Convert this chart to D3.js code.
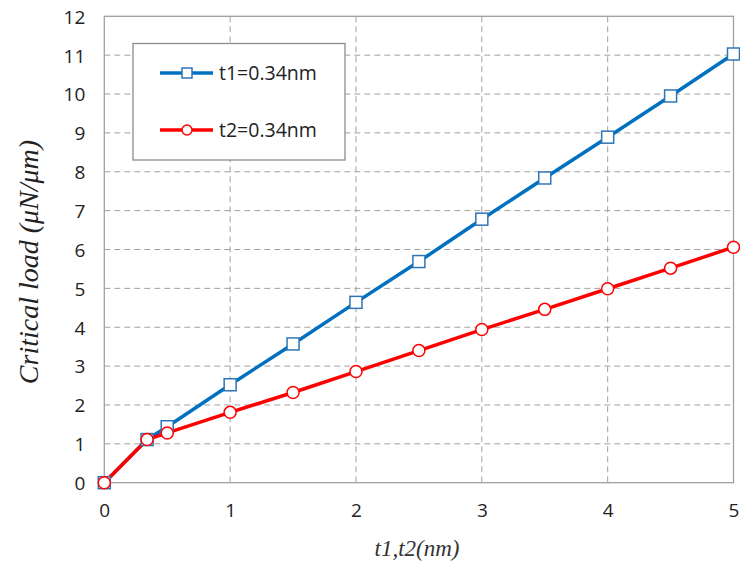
<!DOCTYPE html>
<html><head><meta charset="utf-8">
<script src="https://cdn.jsdelivr.net/npm/d3@7"></script>
<style>body{margin:0;background:#fff}svg{display:block}</style>
</head><body>
<svg id="c" width="740" height="562"></svg>
<script>
const xVals = [0, 0.34, 0.5, 1, 1.5, 2, 2.5, 3, 3.5, 4, 4.5, 5];
const t1Vals = [0, 1.11, 1.44, 2.52, 3.57, 4.64, 5.69, 6.78, 7.84, 8.89, 9.95, 11.03];
const t2Vals = [0, 1.11, 1.28, 1.81, 2.32, 2.86, 3.40, 3.94, 4.46, 4.99, 5.52, 6.06];
const seriesNames = ["t1=0.34nm", "t2=0.34nm"];
const xTicks = [0, 1, 2, 3, 4, 5];
const yTicks = [0,1,2,3,4,5,6,7,8,9,10,11,12];

const svg = d3.select("#c");
const L = 104.3, R = 733.5, T = 16.3, B = 482.7;
const x = d3.scaleLinear().domain([0,5]).range([L,R]);
const y = d3.scaleLinear().domain([0,12]).range([B,T]);
const tickFont = "'Open Sans', 'Noto Sans', sans-serif";

// gridlines
svg.append("g").selectAll("line").data(yTicks.filter(d=>d>0&&d<12)).join("line")
  .attr("x1",L).attr("x2",R).attr("y1",d=>y(d)).attr("y2",d=>y(d))
  .attr("stroke","#a0a0a0").attr("stroke-width",1).attr("stroke-dasharray","6,4");
svg.append("g").selectAll("line").data(xTicks.filter(d=>d>0&&d<5)).join("line")
  .attr("y1",T).attr("y2",B).attr("x1",d=>x(d)).attr("x2",d=>x(d))
  .attr("stroke","#a0a0a0").attr("stroke-width",1).attr("stroke-dasharray","6,4");
// frame
svg.append("rect").attr("x",L).attr("y",T).attr("width",R-L).attr("height",B-T)
  .attr("fill","none").attr("stroke","#a0a0a0").attr("stroke-width",1.3);

// axes via d3
const xAxis = svg.append("g").attr("transform",`translate(0,${B})`)
  .call(d3.axisBottom(x).tickValues(xTicks).tickSize(0).tickPadding(20).tickFormat(d3.format("d")));
const yAxis = svg.append("g").attr("transform",`translate(${L},0)`)
  .call(d3.axisLeft(y).tickValues(yTicks).tickSize(0).tickPadding(19).tickFormat(d3.format("d")));
[xAxis,yAxis].forEach(a=>{
  a.select(".domain").remove();
  a.selectAll("text").attr("font-family",tickFont).attr("font-size",19).attr("fill","#222");
});
yAxis.selectAll("text").attr("dy","0.36em");
xAxis.selectAll("text").attr("dy","0.71em").attr("transform","translate(0,1)");

// lines
const line = d3.line().x((d,i)=>x(xVals[i])).y(d=>y(d));
const series = [
  {vals:t1Vals, color:"#0070C0", mark:"#2E75B6", shape:"square"},
  {vals:t2Vals, color:"#FF0000", mark:"#FF0000", shape:"circle"}
];
series.forEach(s=>{
  svg.append("path").datum(s.vals).attr("d",line).attr("fill","none")
    .attr("stroke",s.color).attr("stroke-width",3.5).attr("stroke-linejoin","round");
});
series.forEach(s=>{
  const g = svg.append("g");
  if (s.shape==="square") {
    g.selectAll("rect").data(s.vals).join("rect")
      .attr("x",(d,i)=>x(xVals[i])-6).attr("y",d=>y(d)-6).attr("width",12).attr("height",12)
      .attr("fill","#fff").attr("stroke",s.mark).attr("stroke-width",1.5);
  } else {
    g.selectAll("circle").data(s.vals).join("circle")
      .attr("cx",(d,i)=>x(xVals[i])).attr("cy",d=>y(d)).attr("r",6)
      .attr("fill","#fff").attr("stroke",s.mark).attr("stroke-width",1.5);
  }
});

// legend
svg.append("rect").attr("x",133).attr("y",43.5).attr("width",212).attr("height",116.5)
  .attr("fill","#fff").attr("stroke","#8c8c8c").attr("stroke-width",1.3);
const legY = [73, 130];
series.forEach((s,i)=>{
  const yy = legY[i];
  svg.append("line").attr("x1",160).attr("x2",213).attr("y1",yy).attr("y2",yy)
    .attr("stroke",s.color).attr("stroke-width",3.5);
  if (s.shape==="square") {
    svg.append("rect").attr("x",187-5).attr("y",yy-5).attr("width",10).attr("height",10)
      .attr("fill","#fff").attr("stroke",s.mark).attr("stroke-width",1.5);
  } else {
    svg.append("circle").attr("cx",187).attr("cy",yy).attr("r",5)
      .attr("fill","#fff").attr("stroke",s.mark).attr("stroke-width",1.5);
  }
  svg.append("text").attr("x",219).attr("y",yy).attr("dy","0.35em")
    .attr("font-family",tickFont).attr("font-size",19.5).attr("fill","#222").text(seriesNames[i]);
});

// titles
svg.append("text").attr("x",417).attr("y",556).attr("text-anchor","middle")
  .attr("font-family","'Liberation Serif', serif").attr("font-style","italic")
  .attr("font-size",23).attr("fill","#333").text("t1,t2(nm)");
svg.append("text").attr("transform","translate(38,262) rotate(-90)").attr("text-anchor","middle")
  .attr("font-family","'Liberation Serif', serif").attr("font-style","italic")
  .attr("font-size",28).attr("fill","#222").text("Critical load (μN/μm)");
</script>
</body></html>
